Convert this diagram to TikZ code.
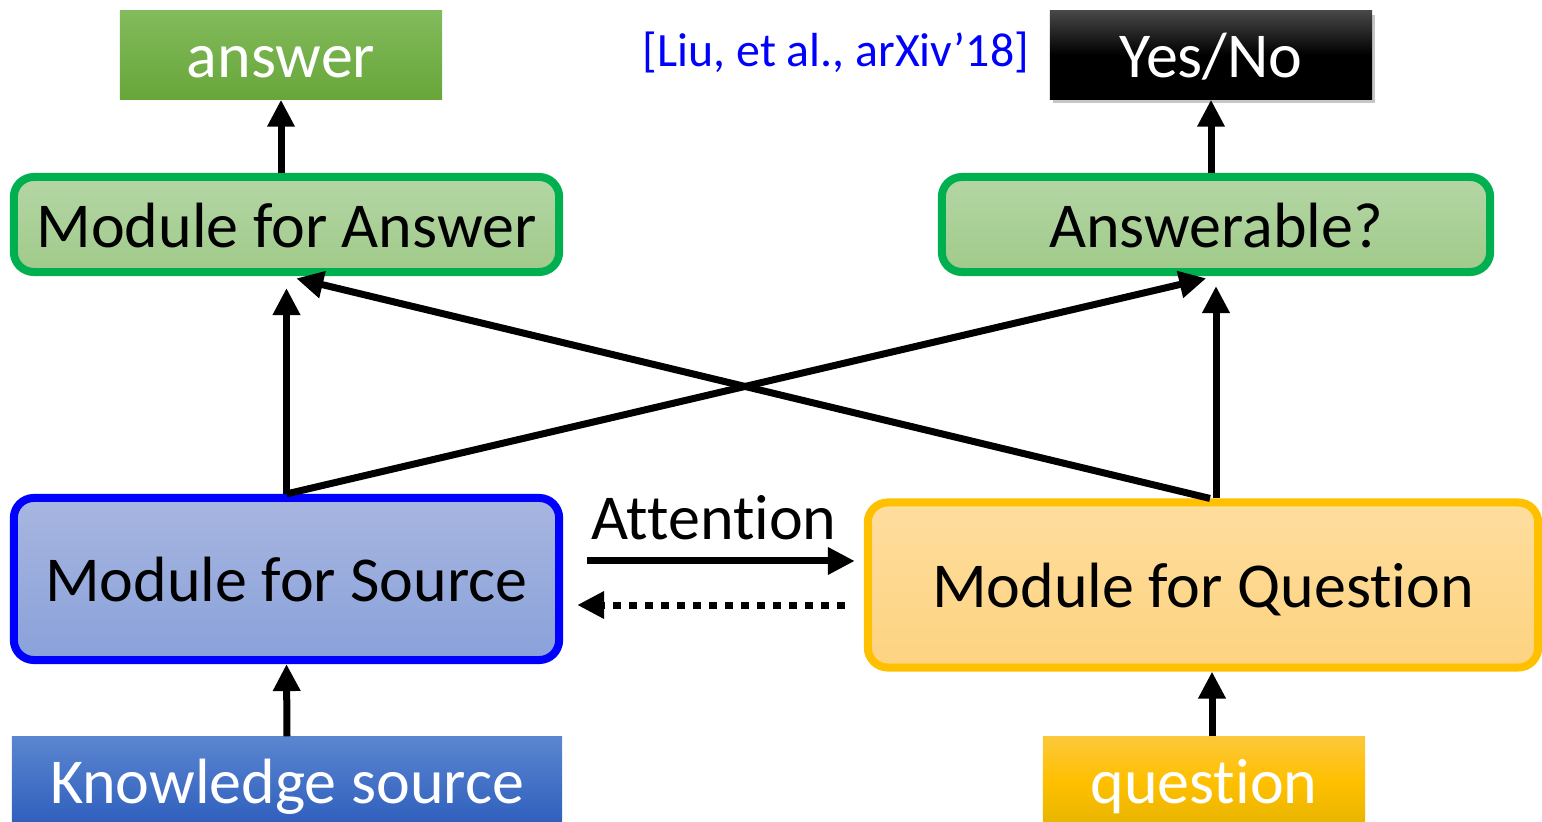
\documentclass[tikz,border=0pt]{standalone}
\usepackage{fontspec}
\setmainfont{Carlito}[Ligatures=NoCommon]
\usetikzlibrary{arrows.meta,shadows}

\definecolor{ansgreen}{HTML}{00B050}
\definecolor{qorange}{HTML}{FFC000}

\tikzset{
  flow/.style={
    x=0.01cm, y=-0.01cm,
    every node/.style={font=\fontsize{18.2}{21}\selectfont, inner sep=0pt,
        text height=0.55cm, text depth=0.1cm},
    plain box/.style={
        rectangle,
        text=white,
        minimum height=0.88cm,
    },
    module/.style={
        rectangle,
        rounded corners=0.2cm,
        line width=0.08cm,
    },
    link/.style={
        line width=0.07cm,
        -{Triangle[length=0.27cm,width=0.26cm]},
    },
  }
}

\begin{document}
\begin{tikzpicture}[flow]
    \useasboundingbox (0,0) rectangle (1542,822);

    % outputs
    \node[plain box, minimum width=3.22cm, top color={rgb,255:red,130;green,187;blue,92},
          bottom color={rgb,255:red,104;green,166;blue,58}] (answer) at (281,55) {answer};
    \node[plain box, minimum width=3.22cm, top color=black!72, bottom color=black,
          middle color=black, drop shadow={opacity=0.45,shadow xshift=0.03cm,shadow yshift=-0.04cm}] (yesno) at (1211,55) {Yes/No};
    \node[text=blue, font=\fontsize{13.6}{16}\selectfont, text height=0.4cm, text depth=0.1cm] (cite) at (836,52) {[Liu, et al., arXiv’18]};

    % modules
    \node[module, draw=ansgreen, minimum width=5.45cm, minimum height=0.95cm,
          top color={rgb,255:red,180;green,214;blue,164}, bottom color={rgb,255:red,160;green,202;blue,138}] (modans) at (286.5,224.5) {Module for Answer};
    \node[module, draw=ansgreen, minimum width=5.48cm, minimum height=0.95cm,
          top color={rgb,255:red,180;green,214;blue,164}, bottom color={rgb,255:red,160;green,202;blue,138}] (answerable) at (1216,224.5) {Answerable?};
    \node[module, draw=blue, minimum width=5.45cm, minimum height=1.62cm,
          top color={rgb,255:red,168;green,182;blue,224}, bottom color={rgb,255:red,137;green,161;blue,218}] (modsrc) at (286.5,579) {Module for Source};
    \node[module, draw=qorange, minimum width=6.7cm, minimum height=1.65cm,
          top color={rgb,255:red,254;green,221;blue,158}, bottom color={rgb,255:red,253;green,211;blue,127}] (modq) at (1203,585) {Module for Question};

    % inputs
    \node[plain box, minimum width=5.5cm, top color={rgb,255:red,90;green,133;blue,208},
          bottom color={rgb,255:red,47;green,95;blue,189}] (know) at (287,781) {Knowledge source};
    \node[plain box, minimum width=3.22cm, top color={rgb,255:red,252;green,200;blue,58},
          bottom color={rgb,255:red,232;green,180;blue,0}, middle color=qorange] (question) at (1204,781) {question};

    \node (attn) at (714,517) {Attention};

    % connectors
    \draw[link] (answer.south |- modans.north) -- (answer.south);
    \draw[link] (yesno.south |- answerable.north) -- (yesno.south);
    \draw[link, shorten >=0.12cm] (modsrc.north) -- (modsrc.north |- modans.south);
    \draw[link, shorten >=0.1cm] (modsrc.north) -- (answerable.south);
    \draw[link, shorten >=0.1cm] (answerable.south |- modq.north) -- (answerable.south);
    \draw[link, shorten >=0.1cm] ([xshift=-0.06cm]answerable.south |- modq.north) -- (modans.south);
    \draw[link] (know.north) -- (modsrc.south);
    \draw[link] ([xshift=0.08cm]question.north) -- ([xshift=0.08cm]question.north |- modq.south);
    \draw[link, shorten <=0.24cm, shorten >=0.09cm] ([yshift=0.18cm]modsrc.east) -- ([yshift=0.18cm]modsrc.east -| modq.west);
    \draw[link, dash pattern=on 0.08cm off 0.08cm, shorten <=0.19cm, shorten >=0.14cm] ([yshift=-0.26cm]modsrc.east -| modq.west) -- ([yshift=-0.26cm]modsrc.east);
\end{tikzpicture}
\end{document}
